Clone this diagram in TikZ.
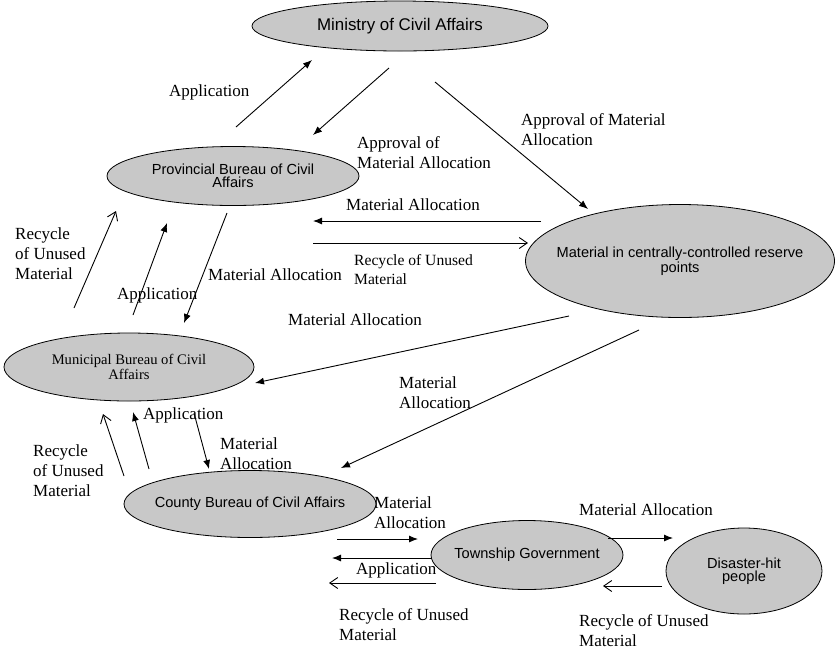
\documentclass[tikz,border=0pt]{standalone}
\usepackage{fontspec}
\setmainfont{Liberation Serif}
\newfontfamily\arialfont{Liberation Sans}
\usepackage{tikz}
\usetikzlibrary{shapes.geometric, arrows.meta}
\definecolor{unitgray}{RGB}{200,200,200}
\tikzstyle{unit} = [ellipse, draw, fill=unitgray, line width=0.8pt, inner xsep=-60pt, inner ysep=-10pt, align=center, font=\arialfont\fontsize{14.6}{13}\selectfont]
\tikzstyle{line} = [draw, line width=0.9pt, -{Latex[length=9pt,width=7pt]}]
\tikzstyle{back} = [draw, line width=0.9pt, -{Straight Barb[length=8pt,width=11pt]}]
\tikzstyle{tag} = [inner sep=0pt, anchor=base west, align=left, font=\fontsize{17}{20}\selectfont]

\begin{document}
\begin{tikzpicture}[x=1pt, y=-1pt]
    \useasboundingbox (0,0) rectangle (836,649);

    % units
    \node[unit, minimum width=296pt, minimum height=50pt, font=\arialfont\fontsize{16.9}{15}\selectfont](ministry) at (400,26) {Ministry of Civil Affairs};
    \node[unit, minimum width=252pt, minimum height=59pt](province) at (233,176) {Provincial Bureau of Civil\\Affairs};
    \node[unit, minimum width=309pt, minimum height=113pt](reserve) at (680,261) {Material in centrally-controlled reserve\\points};
    \node[unit, minimum width=250pt, minimum height=68pt, font=\fontsize{14.6}{13}\selectfont](city) at (129,367) {Municipal Bureau of Civil\\Affairs};
    \node[unit, minimum width=252pt, minimum height=67pt](county) at (250,504) {County Bureau of Civil Affairs};
    \node[unit, minimum width=192pt, minimum height=69pt](township) at (527,555) {Township Government};
    \node[unit, minimum width=156pt, minimum height=86pt](people) at (744,571) {Disaster-hit\\people};

    % arrow ends
    \coordinate (a1) at (236,127); \coordinate (a2) at (312,60);
    \coordinate (b1) at (389,68);  \coordinate (b2) at (313,135);
    \coordinate (c1) at (435,82);  \coordinate (c2) at (588,209);
    \coordinate (d1) at (541,221); \coordinate (d2) at (313,221);
    \coordinate (e1) at (313,243); \coordinate (e2) at (528,243);
    \coordinate (f1) at (74,308);  \coordinate (f2) at (116,211);
    \coordinate (g1) at (133,315); \coordinate (g2) at (167,223);
    \coordinate (h1) at (227,213); \coordinate (h2) at (184,323);
    \coordinate (i1) at (569,316); \coordinate (i2) at (255,383);
    \coordinate (j1) at (639,330); \coordinate (j2) at (341,468);
    \coordinate (k1) at (124,476); \coordinate (k2) at (103,414);
    \coordinate (l1) at (149,469); \coordinate (l2) at (133,412);
    \coordinate (m1) at (194,413); \coordinate (m2) at (209,469);
    \coordinate (n1) at (337,539); \coordinate (n2) at (418,539);
    \coordinate (o1) at (431,558); \coordinate (o2) at (332,558);
    \coordinate (p1) at (436,583); \coordinate (p2) at (329,583);
    \coordinate (q1) at (608,538); \coordinate (q2) at (673,538);
    \coordinate (r1) at (662,586); \coordinate (r2) at (603,586);

    \path[line] (a1) -- (a2);
    \path[line] (b1) -- (b2);
    \path[line] (c1) -- (c2);
    \path[line] (d1) -- (d2);
    \path[back] (e1) -- (e2);
    \path[back] (f1) -- (f2);
    \path[line] (g1) -- (g2);
    \path[line] (h1) -- (h2);
    \path[line] (i1) -- (i2);
    \path[line] (j1) -- (j2);
    \path[back] (k1) -- (k2);
    \path[line] (l1) -- (l2);
    \path[line] (m1) -- (m2);
    \path[line] (n1) -- (n2);
    \path[line] (o1) -- (o2);
    \path[back] (p1) -- (p2);
    \path[line] (q1) -- (q2);
    \path[back] (r1) -- (r2);

    % labels (base = last line)
    \node[tag](tapply1) at (169,96) {Application};
    \node[tag](tapprove1) at (357,168) {Approval of\\Material Allocation};
    \node[tag](tapprove2) at (521,145) {Approval of Material\\Allocation};
    \node[tag](talloc1) at (346,210) {Material Allocation};
    \node[tag, font=\fontsize{15.6}{19}\selectfont](trecycle1) at (354,284) {Recycle of Unused\\Material};
    \node[tag](trecycle2) at (15,279) {Recycle\\of Unused\\Material};
    \node[tag](tapply2) at (117,299) {Application};
    \node[tag](talloc2) at (208,280) {Material Allocation};
    \node[tag](talloc3) at (288,325) {Material Allocation};
    \node[tag](talloc4) at (399,408) {Material\\Allocation};
    \node[tag](tapply3) at (143,419) {Application};
    \node[tag](trecycle3) at (33,496) {Recycle\\of Unused\\Material};
    \node[tag](talloc5) at (220,469) {Material\\Allocation};
    \node[tag](talloc6) at (374,528) {Material\\Allocation};
    \node[tag](tapply4) at (356,574) {Application};
    \node[tag](trecycle4) at (339,640) {Recycle of Unused\\Material};
    \node[tag](talloc7) at (579,515) {Material Allocation};
    \node[tag](trecycle5) at (579,646) {Recycle of Unused\\Material};
\end{tikzpicture}
\end{document}
